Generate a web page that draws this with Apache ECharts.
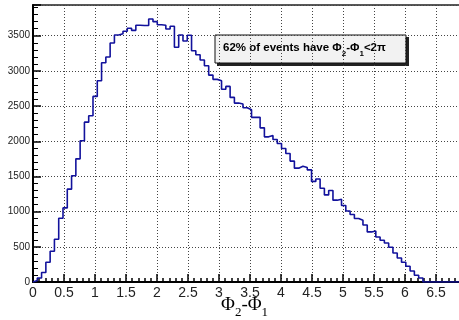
<!DOCTYPE html>
<html>
<head>
<meta charset="utf-8">
<script src="https://cdn.jsdelivr.net/npm/echarts@6/dist/echarts.min.js"></script>
<style>
  html, body { margin: 0; padding: 0; background: #fff; }
  #histChart { width: 459px; height: 320px; }
</style>
</head>
<body>
<div id="histChart"></div>
<script>
// histogram: 100 bins over [0, 2.2*pi]
var nBins = 100;
var histMax = 2.2 * Math.PI;
var binCounts = [
  20, 57, 135, 280, 437, 608, 906, 1053, 1320, 1510,
  1750, 2007, 2272, 2362, 2638, 2860, 3117, 3198, 3397, 3510,
  3529, 3563, 3606, 3577, 3649, 3645, 3645, 3738, 3700, 3657,
  3649, 3596, 3634, 3336, 3510, 3425, 3506, 3287, 3230, 3155,
  3074, 2941, 2880, 2860, 2740, 2780, 2624, 2543, 2529, 2476,
  2448, 2340, 2340, 2191, 2063, 2083, 2026, 1969, 1898, 1827,
  1718, 1618, 1646, 1628, 1594, 1430, 1463, 1333, 1238, 1300,
  1163, 1177, 1087, 1010, 959, 902, 878, 811, 712, 726,
  640, 593, 555, 494, 413, 342, 280, 223, 157, 95,
  57, 0, 0, 0, 0, 0, 0, 0, 0, 0
];
var yTicks = [0, 500, 1000, 1500, 2000, 2500, 3000, 3500];
var xTitle = ['Φ', '2', '-Φ', '1'];

init();

function init(){
  var binWidth = histMax / nBins;

  // step line points: left edge of every bin, plus closing edge
  var stepData = [[0, 0]];
  for (var i = 0; i < nBins; i++) {
    stepData.push([i * binWidth, binCounts[i]]);
  }
  stepData.push([histMax, binCounts[nBins - 1]]);

  var histChart = echarts.init(document.getElementById('histChart'));
  histChart.setOption({
    animation: false,
    backgroundColor: '#fff',
    // frame runs past the right edge of the picture
    grid: {
      left: 33,
      width: 434,
      top: 5,
      bottom: 38,
      outerBoundsMode: 'none',
      containLabel: false,
      show: true,
      borderColor: '#222',
      borderWidth: 1.5,
      backgroundColor: '#fff'
    },
    xAxis: {
      type: 'value',
      min: 0,
      max: 7,
      interval: 0.5,
      axisLine: { show: true, onZero: false, lineStyle: { color: '#000', width: 2 } },
      axisTick: { show: true, inside: true, length: 8, lineStyle: { color: '#000', width: 1.5 } },
      minorTick: { show: true, splitNumber: 5, length: 4, lineStyle: { color: '#000', width: 1.5 } },
      axisLabel: {
        showMaxLabel: false,
        margin: 4,
        fontFamily: 'Liberation Sans',
        fontSize: 14,
        color: '#222'
      },
      splitLine: { show: true, lineStyle: { color: '#444', type: [1, 2], width: 1 } }
    },
    yAxis: {
      type: 'value',
      min: 0,
      max: 3937,
      interval: 500,
      axisLine: { show: true, lineStyle: { color: '#000', width: 2 } },
      axisTick: { show: true, inside: true, length: 8, lineStyle: { color: '#000', width: 1.5 } },
      minorTick: { show: true, splitNumber: 5, length: 5, lineStyle: { color: '#000', width: 1 } },
      axisLabel: {
        showMaxLabel: false,
        margin: 3,
        fontFamily: 'Liberation Sans',
        fontSize: 10,
        color: '#222',
        formatter: function (value) {
          return yTicks.indexOf(value) >= 0 ? String(value) : '';
        }
      },
      splitLine: { show: true, lineStyle: { color: '#444', type: [1, 2], width: 1 } }
    },
    series: [
      {
        name: 'dphi',
        type: 'line',
        step: 'end',
        data: stepData,
        showSymbol: false,
        silent: true,
        lineStyle: { color: '#12129c', width: 1.6 }
      }
    ],
    graphic: [
      // axis title
      {
        type: 'text',
        left: 221,
        top: 296,
        style: {
          text: '{b|' + xTitle[0] + '}{s|' + xTitle[1] + '}{b|' + xTitle[2] + '}{s|' + xTitle[3] + '}',
          rich: {
            b: { fontFamily: 'Liberation Serif', fontSize: 19, color: '#111', lineHeight: 20, verticalAlign: 'middle' },
            s: { fontFamily: 'Liberation Serif', fontSize: 13, color: '#111', lineHeight: 28, verticalAlign: 'bottom' }
          }
        }
      },
      // note box with shadow
      {
        type: 'rect',
        shape: { x: 217, y: 37, width: 192, height: 29 },
        style: { fill: '#222' }
      },
      {
        type: 'rect',
        shape: { x: 215, y: 35, width: 191, height: 28 },
        style: { fill: '#f2f2f2', stroke: '#111', lineWidth: 1 }
      },
      {
        type: 'text',
        left: 223,
        top: 42,
        style: {
          text: '{b|62% of events have Φ}{s|2}{b|-Φ}{s|1}{b|<2π}',
          rich: {
            b: { fontFamily: 'Liberation Sans', fontWeight: 'bold', fontSize: 11.5, color: '#111', lineHeight: 14, verticalAlign: 'middle' },
            s: { fontFamily: 'Liberation Sans', fontWeight: 'bold', fontSize: 8, color: '#111', lineHeight: 20, verticalAlign: 'bottom' }
          }
        }
      }
    ]
  });
}
</script>
</body>
</html>
